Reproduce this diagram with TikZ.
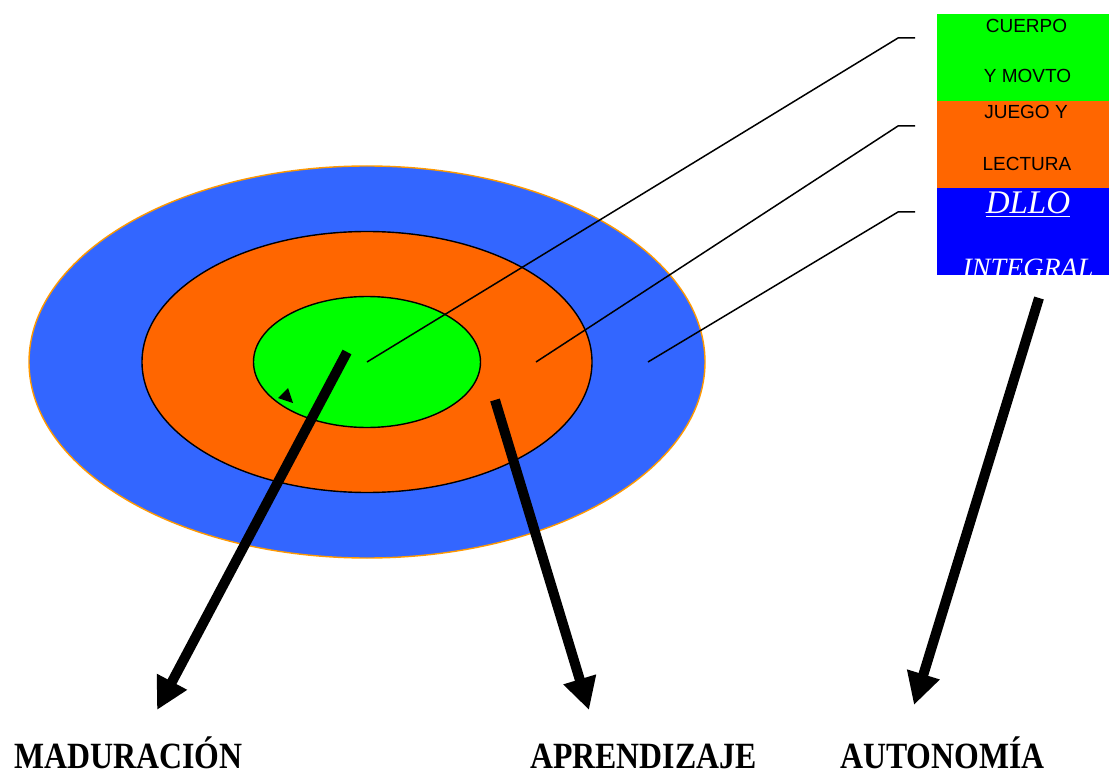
\documentclass[tikz,border=0pt]{standalone}
\usepackage{fontspec}
\setmainfont{Liberation Serif}
\newfontfamily\legfont{Liberation Sans}
\usetikzlibrary{shapes.geometric, arrows.meta, positioning}

\definecolor{ringblue}{HTML}{3366FF}
\definecolor{ringorange}{HTML}{FF6600}
\definecolor{ringgreen}{HTML}{00FF00}
\definecolor{legblue}{HTML}{0000FF}
\definecolor{rimorange}{HTML}{FF9900}

\tikzset{
  ring/.style={ellipse, inner sep=0pt, line width=1.4pt},
  legbox/.style={rectangle, inner sep=0pt, minimum width=172pt, minimum height=86.7pt},
  legtext/.style={font=\legfont\fontsize{19}{19}\selectfont, anchor=base, inner sep=0pt},
  dllotext/.style={font=\itshape\fontsize{29}{29}\selectfont, text=white, anchor=base, inner sep=0pt},
  leader/.style={line width=1.5pt},
  bigarrow/.style={line width=10pt, -{Triangle[length=32pt,width=32pt]}},
  result/.style={font=\bfseries\fontsize{37}{37}\selectfont, anchor=base, inner sep=0pt},
}

\begin{document}
\begin{tikzpicture}[x=1pt,y=-1pt]

  \useasboundingbox (0,0) rectangle (1109,778);

  \node[ring, fill=ringblue, draw=rimorange, minimum width=676pt, minimum height=392pt] (ring_out) at (367,362) {};
  \node[ring, fill=ringorange, draw=black, minimum width=450pt, minimum height=261pt] (ring_mid) at (367,362) {};
  \node[ring, fill=ringgreen, draw=black, minimum width=227pt, minimum height=131pt] (ring_in) at (367,362) {};

  \fill (278,398) -- (288,388) -- (293,403) -- cycle;

  \node[legbox, anchor=north west, fill=ringgreen] (leg_green) at (937,14) {};
  \node[legbox, fill=ringorange, below=0pt of leg_green] (leg_orange) {};
  \node[legbox, fill=legblue, below=0pt of leg_orange] (leg_blue) {};

  \node[legtext] (cuerpo) at (1026.5,33) {CUERPO};
  \node[legtext] (movto) at (1027.5,83) {Y MOVTO};
  \node[legtext] (juego) at (1026,119) {JUEGO Y};
  \node[legtext] (lectura) at (1027,171) {LECTURA};
  \begin{scope}
    \clip (leg_blue.north west) rectangle (leg_blue.south east);
    \node[dllotext, font=\itshape\fontsize{33}{33}\selectfont] (dllo) at (1028,214) {\underline{DLLO}};
    \node[dllotext, font=\itshape\fontsize{28}{28}\selectfont] (integral) at (1028,278) {INTEGRAL};
  \end{scope}

  \coordinate (pin_mid) at (536,362);
  \coordinate (pin_out) at (648,362);
  \coordinate (tag_green) at (915,38);
  \coordinate (tag_orange) at (915,126);
  \coordinate (tag_blue) at (915,212);

  \draw[leader] (ring_in.center) -- ([xshift=-17pt]tag_green) -- (tag_green);
  \draw[leader] (pin_mid) -- ([xshift=-17pt]tag_orange) -- (tag_orange);
  \draw[leader] (pin_out) -- ([xshift=-17pt]tag_blue) -- (tag_blue);

  \coordinate (mad_from) at (347,352);
  \coordinate (mad_to) at (157,710);
  \coordinate (apr_from) at (495,400);
  \coordinate (apr_to) at (589,710);
  \coordinate (aut_from) at (1039,298);
  \coordinate (aut_to) at (914,705);

  \draw[bigarrow] (mad_from) -- (mad_to);
  \draw[bigarrow] (apr_from) -- (apr_to);
  \draw[bigarrow] (aut_from) -- (aut_to);

  \node[result] (maduracion) at (128.5,768) {\scalebox{0.86}[1]{MADURACIÓN}};
  \node[result] (aprendizaje) at (643.5,768) {\scalebox{0.86}[1]{APRENDIZAJE}};
  \node[result] (autonomia) at (942.5,768) {\scalebox{0.86}[1]{AUTONOMÍA}};

\end{tikzpicture}
\end{document}
